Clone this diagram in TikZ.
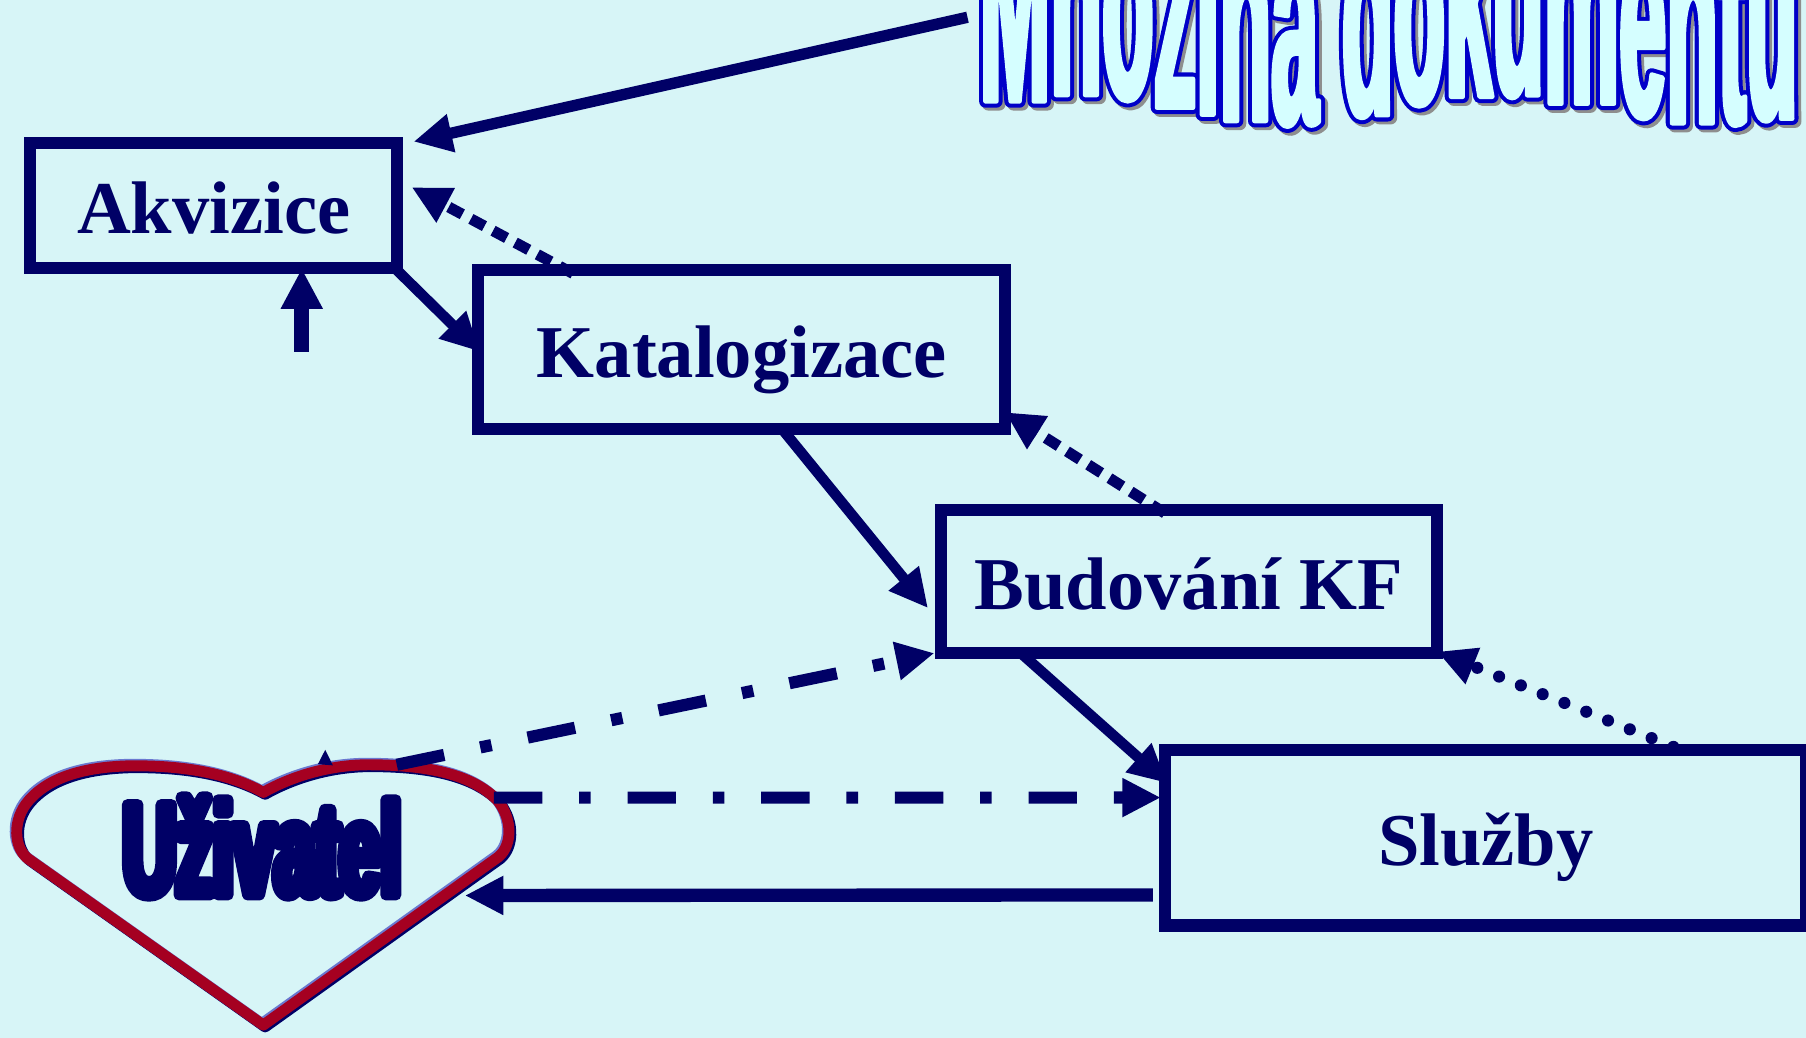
\documentclass[tikz,border=0pt]{standalone}
\usepackage{fontspec}
\usepackage{graphicx}
\setmainfont{Liberation Serif}
\newfontfamily\wafont{Liberation Sans}[FakeStretch=0.294]
\newfontfamily\uzfont{Liberation Sans}[FakeStretch=0.561]
\usetikzlibrary{arrows.meta,calc}
\definecolor{bgc}{HTML}{D7F5F7}
\definecolor{navy}{HTML}{000066}
\definecolor{heartred}{HTML}{A50021}
\definecolor{heartblue}{HTML}{6A78D0}
\definecolor{wafill}{HTML}{D5FEFF}
\definecolor{waline}{HTML}{0000C8}
\definecolor{wash}{HTML}{8E8E8E}
\newcommand{\strk}[2]{\special{pdf:literal direct 2 Tr #1 w 1 j 1 J}#2\special{pdf:literal direct 0 Tr}}
\newcommand{\wlet}[2]{\raisebox{#1pt}{#2}}
\newcommand{\mnozina}{\wlet{1.99}{M}\wlet{3.56}{n}\wlet{2.70}{o}\wlet{0.43}{ž}\wlet{-1.28}{i}\wlet{-2.85}{n}\wlet{-3.56}{a}\hspace{0.0817em}\wlet{-1.42}{d}\wlet{1.42}{o}\wlet{3.13}{k}\wlet{3.5}{u}\wlet{1.42}{m}\wlet{-1.71}{e}\wlet{-3.41}{n}\wlet{-3.41}{t}\wlet{-2.28}{ů}}
\tikzset{
  box/.style={draw=navy, line width=3pt, text=navy, font=\bfseries\fontsize{18.4pt}{20pt}\selectfont,
    text height=13.8pt, text depth=0pt, inner sep=0pt},
  con/.style={draw=navy, line width=2.6pt, -{Triangle[length=9.5pt,width=9pt]}},
  sqdot/.style={con, line width=2.7pt, dash pattern=on 3.8pt off 2.4pt},
  rddot/.style={con, line width=3pt, line cap=round, dash pattern=on 0pt off 5.8pt},
  dashdot/.style={con, line width=3pt, dash pattern=on 11.95pt off 9.1pt on 2.85pt off 9.1pt},
  wa/.style={anchor=base west, inner sep=0pt, font=\wafont\bfseries\fontsize{71.06pt}{72pt}\selectfont},
  uzs/.style={anchor=base, inner sep=0pt, text=navy, font=\uzfont\bfseries\fontsize{32.4pt}{34pt}\selectfont},
}
\begin{document}
\begin{tikzpicture}[x=0.01cm, y=-0.01cm]
\useasboundingbox (0,0) rectangle (1568,901);
\fill[bgc] (0,0) rectangle (1568,901);
\clip (0,0) rectangle (1568,901);

% WordArt title
\node[wa, text=wash] (mnozsh) at (852.5,97.5) {\strk{3.13}{\mnozina}};
\node[wa, text=waline] (mnozol) at (850,95) {\strk{3.13}{\mnozina}};
\node[wa, text=wafill] (mnoz) at (850,95) {\strk{1.14}{\mnozina}};

% boxes
\node[box, minimum width=3.18cm, minimum height=1.085cm] (akv) at (185.5,178.75) {Akvizice};
\node[box, minimum width=4.577cm, minimum height=1.384cm] (kat) at (643.9,303.5) {Katalogizace};
\node[box, minimum width=4.30cm, minimum height=1.24cm] (bud) at (1032.3,504.75) {Budování KF};
\node[box, minimum width=5.56cm, minimum height=1.524cm] (sl) at (1290,727.3) {Služby};

% heart
\foreach \dx/\dy/\c in {1.6/1.6/navy, -1.3/-1.3/heartblue, 0/0/heartred}{
\draw[\c, line width=2.7pt, line join=round, shift={(\dx,\dy)}]
  (228.6,890) -- (25,746) .. controls (12,737) and (10,712) .. (25,695)
  .. controls (45,672) and (80,666) .. (110,665)
  .. controls (160,664) and (200,672) .. (228.6,688)
  .. controls (257,672) and (290,664) .. (320,664)
  .. controls (370,664) and (410,672) .. (432,695)
  .. controls (446,712) and (445,737) .. (430,746) -- cycle;
}
\fill[navy] (282.4,651) -- (276,663.5) -- (289,664.5) -- cycle;
\node[uzs] (uz) at (227.5,777) {\strk{2.7}{Uživatel}};

% free ends
\coordinate (mn) at (840,15);
\coordinate (uin) at (262,305.6);
\coordinate (hA) at (344.5,664);
\coordinate (hB) at (428.8,692.5);
\coordinate (hC) at (403.6,777.5);

% connectors
\draw[con, line width=2.8pt] (mn) -- ($(akv.north east)+(9.2,3.8)$);
\draw[sqdot] ($(kat.north west)+(87.9,8.5)$) -- ($(akv.north east)+(7.6,43.4)$);
\draw[con] ($(akv.south east)+(-6.8,-5.3)$) -- ($(kat.west)+(6.9,1.8)$);
\draw[con, line width=3.7pt, -{Triangle[length=10pt,width=9.7pt]}] (uin) -- ($(akv.south)+(76.5,-5.3)$);
\draw[con] ($(kat.south)+(35.8,-4.7)$) -- ($(bud.west)+(-6.2,23.25)$);
\draw[sqdot] ($(bud.north west)+(199.5,8.1)$) -- ($(kat.south east)+(-5.6,-20.1)$);
\draw[con] ($(bud.south west)+(73,-6.3)$) -- ($(sl.north west)+(6.8,34.2)$);
\draw[rddot] ($(sl.north west)+(446.3,2.7)$) -- ($(bud.south east)+(-4.9,-6.3)$);
\draw[dashdot] (hA) -- ($(bud.south west)+(-0.6,-5)$);
\draw[dashdot] (hB) -- ($(sl.north west)+(1.3,46.7)$);
\draw[con, line width=3.3pt] ($(sl.south west)+(-5.7,-31.8)$) -- (hC);
\end{tikzpicture}
\end{document}
